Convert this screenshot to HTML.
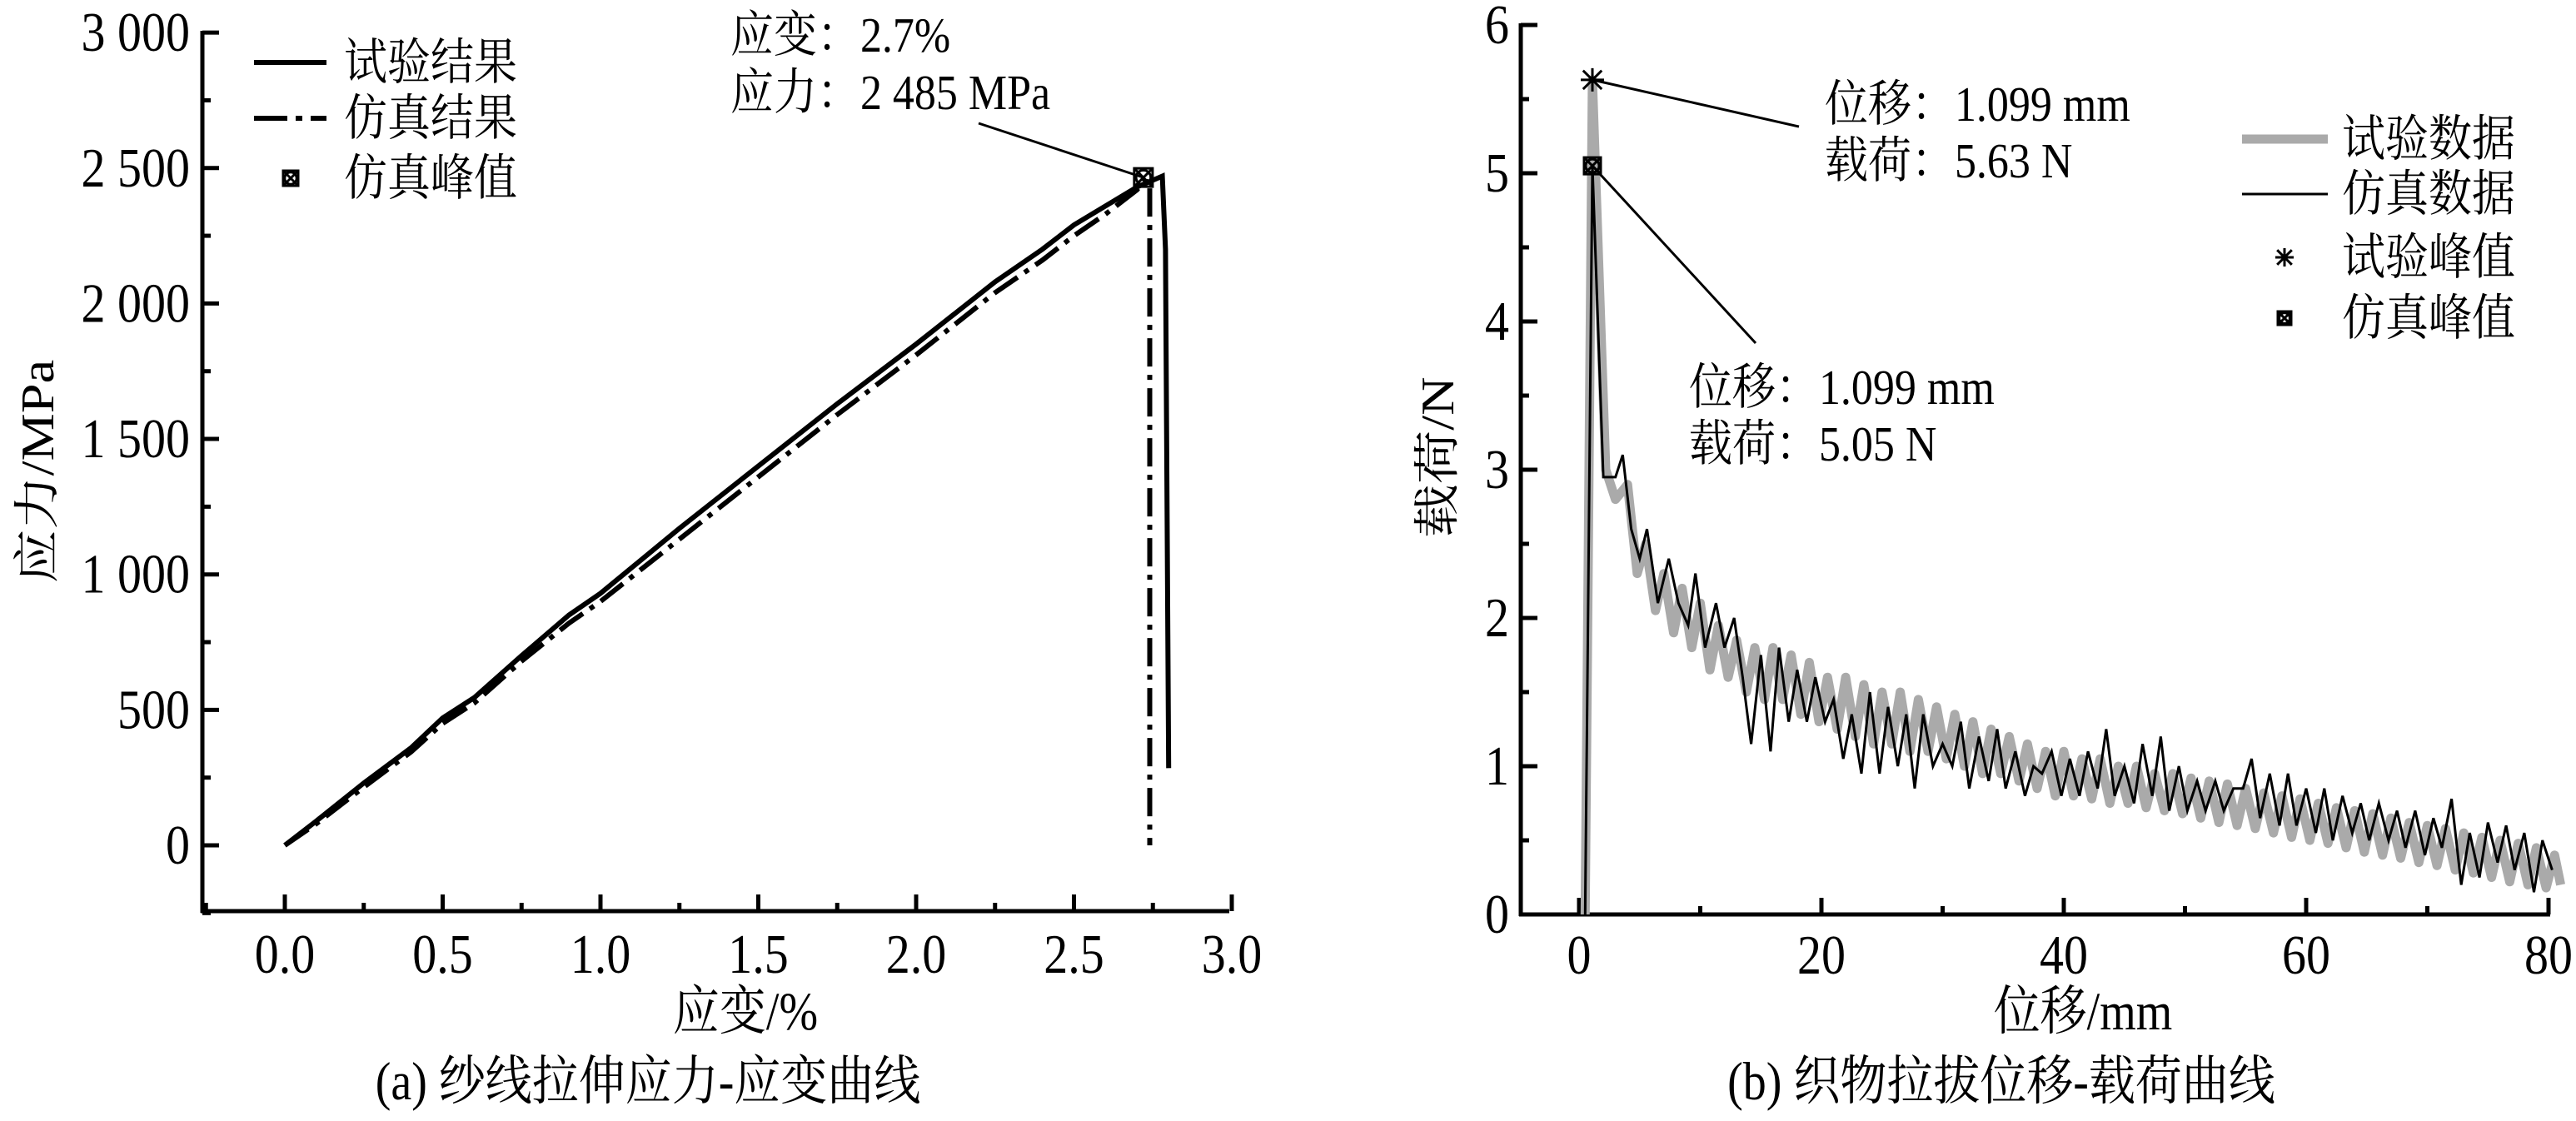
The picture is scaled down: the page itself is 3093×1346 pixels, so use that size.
<!DOCTYPE html>
<html><head><meta charset="utf-8"><style>
html,body{margin:0;padding:0;background:#fff;}
svg{display:block;}
svg text{font-family:"Liberation Serif","Noto Serif CJK SC","DejaVu Serif",serif;fill:#000;}
</style></head><body>
<svg id="fig" width="3093" height="1346" viewBox="0 0 3093 1346" xmlns="http://www.w3.org/2000/svg">
<g id="pa"></g>
<g id="pb"></g>
</svg>
<script>
// ---- Chart (a) data ----
const aXTicks = [0.0, 0.5, 1.0, 1.5, 2.0, 2.5, 3.0];
const aXTickLabels = ["0.0","0.5","1.0","1.5","2.0","2.5","3.0"];
const aYTicks = [0, 500, 1000, 1500, 2000, 2500, 3000];
const aYTickLabels = ["0","500","1 000","1 500","2 000","2 500","3 000"];
const expStrain = [0, 0.1, 0.25, 0.4, 0.5, 0.6, 0.75, 0.9, 1.0, 1.25, 1.5, 1.75, 2.0, 2.25, 2.4, 2.5, 2.6, 2.7, 2.78, 2.79, 2.8];
const expStress = [0, 90, 230, 360, 470, 545, 700, 850, 930, 1170, 1400, 1630, 1850, 2080, 2200, 2290, 2360, 2430, 2470, 2200, 285];
const simStrain = [0, 0.1, 0.25, 0.4, 0.5, 0.6, 0.75, 0.9, 1.0, 1.25, 1.5, 1.75, 2.0, 2.25, 2.4, 2.5, 2.6, 2.7, 2.72, 2.74, 2.74];
const simStress = [0, 80, 215, 345, 450, 525, 680, 820, 900, 1130, 1360, 1590, 1810, 2040, 2160, 2250, 2330, 2420, 2450, 2450, 0];
const simPeakA = [2.72, 2465];
// ---- Chart (b) data ----
const bXTicks = [0, 20, 40, 60, 80];
const bXTickLabels = ["0","20","40","60","80"];
const bYTicks = [0, 1, 2, 3, 4, 5, 6];
const bYTickLabels = ["0","1","2","3","4","5","6"];
const expDisp = [0.5,1.1,2.2,3,4,4.8,5.5,6.3,7,7.8,8.5,9.3,10,10.8,11.5,12.3,13,13.8,14.5,15.3,16,16.8,17.5,18.3,19,19.8,20.5,21.3,22,22.8,23.5,24.3,25,25.8,26.5,27.3,28,28.8,29.5,30.3,31,31.8,32.5,33.3,34,34.8,35.5,36.3,37,37.8,38.5,39.3,40,40.8,41.5,42.3,43,43.8,44.5,45.3,46,46.8,47.5,48.3,49,49.8,50.5,51.3,52,52.8,53.5,54.3,55,55.8,56.5,57.3,58,58.8,59.5,60.3,61,61.8,62.5,63.3,64,64.8,65.5,66.3,67,67.8,68.5,69.3,70,70.8,71.5,72.3,73,73.8,74.5,75.3,76,76.8,77.5,78.3,79,79.8,80.5,81];
const expLoad = [0,5.63,3.0,2.8,2.9,2.3,2.5,2.05,2.3,1.9,2.2,1.8,2.1,1.65,1.95,1.6,1.85,1.5,1.8,1.45,1.8,1.45,1.75,1.35,1.7,1.3,1.6,1.25,1.6,1.2,1.55,1.15,1.5,1.15,1.5,1.1,1.45,1.1,1.4,1.05,1.35,1.0,1.3,0.95,1.25,0.95,1.2,0.9,1.15,0.85,1.1,0.8,1.1,0.8,1.05,0.78,1.05,0.75,1.0,0.75,1.0,0.72,0.95,0.7,0.95,0.68,0.92,0.65,0.9,0.62,0.88,0.6,0.85,0.58,0.82,0.55,0.8,0.52,0.78,0.5,0.75,0.48,0.72,0.45,0.7,0.42,0.68,0.4,0.65,0.38,0.62,0.35,0.6,0.33,0.58,0.3,0.55,0.28,0.52,0.25,0.5,0.22,0.48,0.2,0.45,0.18,0.4,0.2];
const simDisp = [0.5,1.1,2,3,3.6,4.3,5,5.6,6.5,7.4,8.2,9,9.6,10.4,11.3,12,12.8,13.5,14.2,15,15.8,16.5,17.3,18,18.8,19.5,20.3,21,21.8,22.5,23.3,24,24.8,25.5,26.3,27,27.7,28.4,29.2,30,30.8,31.5,32.2,33,33.8,34.5,35.2,36,36.8,37.5,38.2,39,39.8,40.5,41.3,42,42.8,43.5,44.2,45,45.8,46.5,47.3,48,48.7,49.5,50.2,51,51.7,52.5,53.2,54,54.8,55.5,56.2,57,57.8,58.5,59.2,60,60.8,61.5,62.2,63,63.8,64.5,65.2,66,66.8,67.5,68.2,69,69.8,70.5,71.2,72,72.8,73.5,74.3,75,75.8,76.5,77.2,78,78.8,79.5,80.3,81];
const simLoad = [0,5.05,2.95,2.95,3.1,2.6,2.4,2.6,2.1,2.4,2.1,1.95,2.3,1.8,2.1,1.8,2.0,1.6,1.15,1.75,1.1,1.8,1.3,1.65,1.3,1.6,1.3,1.45,1.05,1.35,0.95,1.5,0.95,1.4,1.0,1.35,0.85,1.35,1.0,1.15,1.0,1.3,0.85,1.2,0.9,1.25,0.85,1.1,0.8,1.0,0.95,1.1,0.8,1.05,0.8,1.1,0.85,1.25,0.8,1.0,0.75,1.15,0.8,1.2,0.7,1.0,0.7,0.9,0.7,0.9,0.7,0.85,0.85,1.05,0.65,0.95,0.6,0.95,0.6,0.85,0.55,0.85,0.5,0.8,0.55,0.75,0.5,0.75,0.5,0.7,0.45,0.7,0.4,0.65,0.45,0.78,0.2,0.55,0.25,0.62,0.35,0.6,0.3,0.55,0.15,0.5,0.3];
const expPeakB = [1.099, 5.63];
const simPeakB = [1.099, 5.05];

const NS = "http://www.w3.org/2000/svg";
const FONT = '"Liberation Serif","Noto Serif CJK SC","DejaVu Serif",serif';
function mk(parent, tag, attrs, txt){
  const e = document.createElementNS(NS, tag);
  for (const k in attrs) e.setAttribute(k, attrs[k]);
  if (txt !== undefined) e.textContent = txt;
  parent.appendChild(e);
  return e;
}
// text with vertical stretch (reference glyphs are tall)
function tx(parent, x, y, size, anchor, str, rot){
  let tf = 'translate(' + x + ' ' + y + ')' + (rot ? ' rotate(' + rot + ')' : '') + ' scale(1 1.15)';
  return mk(parent,'text',{x:0,y:0,'font-size':size,'text-anchor':anchor||'start','font-family':FONT,transform:tf},str);
}
// ---------- Chart (a) ----------
const ga = document.getElementById('pa');
const ax = v => 342 + v * 379;
const ay = v => 1015 - v * 0.3253;
const aX0 = 243, aX1 = 1476, aYb = 1094, aYt = 39;
let e;
e = mk(ga,'line',{x1:aX0,y1:aYt-2,x2:aX0,y2:aYb+2,stroke:'#000','stroke-width':5});
 
e = mk(ga,'line',{x1:aX0-2,y1:aYb,x2:aX1,y2:aYb,stroke:'#000','stroke-width':5});
 
aYTicks.forEach((v,i)=>{
  mk(ga,'line',{x1:aX0,y1:ay(v),x2:aX0+20,y2:ay(v),stroke:'#000','stroke-width':5});
  if (i < aYTicks.length-1) mk(ga,'line',{x1:aX0,y1:ay(v+250),x2:aX0+10,y2:ay(v+250),stroke:'#000','stroke-width':5});
  e = tx(ga, 228, ay(v)+22, 58, 'end', aYTickLabels[i]);
   
});
mk(ga,'line',{x1:aX0,y1:ay(-250),x2:aX0+10,y2:ay(-250),stroke:'#000','stroke-width':5});
aXTicks.forEach((v,i)=>{
  mk(ga,'line',{x1:ax(v),y1:aYb,x2:ax(v),y2:aYb-20,stroke:'#000','stroke-width':5});
  if (i < aXTicks.length-1) mk(ga,'line',{x1:ax(v+0.25),y1:aYb,x2:ax(v+0.25),y2:aYb-10,stroke:'#000','stroke-width':5});
  e = tx(ga, ax(v), 1168, 58, 'middle', aXTickLabels[i]);
   
});
mk(ga,'line',{x1:ax(-0.25),y1:aYb,x2:ax(-0.25),y2:aYb-10,stroke:'#000','stroke-width':5});
function poly(g, xs, ys, fx, fy, attrs){
  const pts = xs.map((x,i)=>fx(x).toFixed(1)+','+fy(ys[i]).toFixed(1)).join(' ');
  attrs.points = pts; attrs.fill='none';
  return mk(g,'polyline',attrs);
}
e = poly(ga, simStrain, simStress, ax, ay, {stroke:'#000','stroke-width':6,'stroke-dasharray':'34 10 6 10'});
 
e = poly(ga, expStrain, expStress, ax, ay, {stroke:'#000','stroke-width':6});
 
function boxX(g, cx, cy, s, sw){
  const gg = mk(g,'g',{});
  mk(gg,'rect',{x:cx-s,y:cy-s,width:2*s,height:2*s,fill:'none',stroke:'#000','stroke-width':sw});
  mk(gg,'circle',{cx:cx,cy:cy,r:s*0.8,fill:'none',stroke:'#000','stroke-width':sw});
  mk(gg,'line',{x1:cx-s,y1:cy-s,x2:cx+s,y2:cy+s,stroke:'#000','stroke-width':sw});
  mk(gg,'line',{x1:cx-s,y1:cy+s,x2:cx+s,y2:cy-s,stroke:'#000','stroke-width':sw});
  return gg;
}
e = boxX(ga, ax(simPeakA[0]), ay(simPeakA[1]), 11, 3);
 
mk(ga,'line',{x1:1175,y1:148,x2:ax(simPeakA[0]),y2:ay(simPeakA[1]),stroke:'#000','stroke-width':3});
e = tx(ga, 877, 62, 52, 'start', '应变：2.7%');
 
e = tx(ga, 877, 131, 52, 'start', '应力：2 485 MPa');
 
// legend a
mk(ga,'line',{x1:305,y1:75,x2:392,y2:75,stroke:'#000','stroke-width':6});
mk(ga,'line',{x1:305,y1:142,x2:392,y2:142,stroke:'#000','stroke-width':6,'stroke-dasharray':'40 10 8 10'});
boxX(ga, 349, 214, 9, 3);
[['试验结果',95],['仿真结果',162],['仿真峰值',234]].forEach(t=>{
  e = tx(ga, 413, t[1], 52, 'start', t[0]);
   
});
e = mk(ga,'text',{x:0,y:0,'font-size':56,'text-anchor':'middle','font-family':FONT,transform:'translate(64 566) rotate(-90) scale(1.15 1)'},'应力/MPa');
 
e = tx(ga, 895, 1236, 56, 'middle', '应变/%');
 
e = tx(ga, 778, 1320, 56, 'middle', '(a) 纱线拉伸应力-应变曲线');
 

// ---------- Chart (b) ----------
const gb = document.getElementById('pb');
const bx = v => 1896 + v * 14.55;
const by = v => 1098 - v * 178;
const bX0 = 1826, bX1 = 3062, bYb = 1098, bYt = 30;
e = mk(gb,'line',{x1:bX0,y1:bYt-2,x2:bX0,y2:bYb+2,stroke:'#000','stroke-width':5});
 
e = mk(gb,'line',{x1:bX0-2,y1:bYb,x2:bX1,y2:bYb,stroke:'#000','stroke-width':5});
 
bYTicks.forEach((v,i)=>{
  mk(gb,'line',{x1:bX0,y1:by(v),x2:bX0+20,y2:by(v),stroke:'#000','stroke-width':5});
  if (i < bYTicks.length-1) mk(gb,'line',{x1:bX0,y1:by(v+0.5),x2:bX0+10,y2:by(v+0.5),stroke:'#000','stroke-width':5});
  e = tx(gb, 1812, by(v)+22, 58, 'end', bYTickLabels[i]);
   
});
bXTicks.forEach((v,i)=>{
  mk(gb,'line',{x1:bx(v),y1:bYb,x2:bx(v),y2:bYb-20,stroke:'#000','stroke-width':5});
  if (i < bXTicks.length-1) mk(gb,'line',{x1:bx(v+10),y1:bYb,x2:bx(v+10),y2:bYb-10,stroke:'#000','stroke-width':5});
  e = tx(gb, bx(v), 1169, 58, 'middle', bXTickLabels[i]);
   
});
e = poly(gb, expDisp, expLoad, bx, by, {stroke:'#aaaaaa','stroke-width':11,'stroke-linejoin':'round'});
 
e = poly(gb, simDisp, simLoad, bx, by, {stroke:'#000','stroke-width':3});
 
function star(g,cx,cy,s,sw){
  const gg = mk(g,'g',{});
  mk(gg,'line',{x1:cx-s,y1:cy,x2:cx+s,y2:cy,stroke:'#000','stroke-width':sw});
  mk(gg,'line',{x1:cx,y1:cy-s,x2:cx,y2:cy+s,stroke:'#000','stroke-width':sw});
  mk(gg,'line',{x1:cx-s*0.8,y1:cy-s*0.8,x2:cx+s*0.8,y2:cy+s*0.8,stroke:'#000','stroke-width':sw});
  mk(gg,'line',{x1:cx-s*0.8,y1:cy+s*0.8,x2:cx+s*0.8,y2:cy-s*0.8,stroke:'#000','stroke-width':sw});
  return gg;
}
e = star(gb, bx(expPeakB[0]), by(expPeakB[1]), 14, 3);
 
e = boxX(gb, bx(simPeakB[0]), by(simPeakB[1]), 10, 3);
 
mk(gb,'line',{x1:2160,y1:152,x2:bx(expPeakB[0]),y2:by(expPeakB[1]),stroke:'#000','stroke-width':3});
mk(gb,'line',{x1:2108,y1:412,x2:bx(simPeakB[0]),y2:by(simPeakB[1]),stroke:'#000','stroke-width':3});
[['位移：1.099 mm',2191,145],['载荷：5.63 N',2191,213],['位移：1.099 mm',2028,485],['载荷：5.05 N',2028,553]].forEach(t=>{
  e = tx(gb, t[1], t[2], 52, 'start', t[0]);
   
});
mk(gb,'line',{x1:2692,y1:167,x2:2795,y2:167,stroke:'#aaaaaa','stroke-width':11});
mk(gb,'line',{x1:2692,y1:233,x2:2795,y2:233,stroke:'#000','stroke-width':3});
star(gb, 2743, 309, 11, 3);
boxX(gb, 2743, 382, 8, 3);
[['试验数据',187],['仿真数据',253],['试验峰值',329],['仿真峰值',402]].forEach(t=>{
  e = tx(gb, 2812, t[1], 52, 'start', t[0]);
   
});
e = mk(gb,'text',{x:0,y:0,'font-size':56,'text-anchor':'middle','font-family':FONT,transform:'translate(1745 549) rotate(-90) scale(1.15 1)'},'载荷/N');
 
e = tx(gb, 2501, 1236, 56, 'middle', '位移/mm');
 
e = tx(gb, 2403, 1320, 56, 'middle', '(b) 织物拉拔位移-载荷曲线');
 
</script>
</body></html>
